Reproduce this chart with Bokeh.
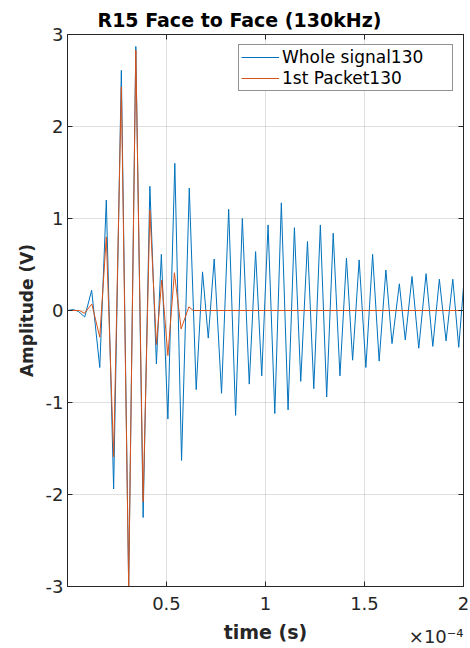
from bokeh.plotting import figure
from bokeh.models import Range1d, FixedTicker, LinearAxis, Legend, LegendItem, Title, ColumnDataSource
from bokeh.embed import file_html
from bokeh.resources import INLINE

# ---- data (time in microseconds, amplitude in volts) ----
whole_t_us = [0, 3, 5.5, 8.7, 12.2, 16.3, 19.6, 23.3, 27.2, 30.9, 34.5, 38.2, 41.6, 44.9,
              47.4, 50.7, 54.2, 57.6, 61.5, 65.0, 68.2, 71.1, 74.1, 77.8, 81.4, 84.9,
              88.3, 91.8, 95.0, 98.1, 101.3, 104.7, 108.0, 111.4, 114.6, 117.8, 121.2,
              124.4, 127.7, 130.9, 134.2, 137.6, 140.9, 144.0, 147.3, 150.7, 154.1,
              157.4, 160.8, 163.9, 167.6, 170.6, 174.0, 177.4, 181.1, 184.5, 187.8,
              191.2, 194.6, 197.6, 200]
whole_v = [0.0, 0.01, -0.01, -0.07, 0.22, -0.62, 1.20, -1.94, 2.61, -3.00, 2.87, -2.25, 1.35, -0.58,
           0.61, -1.18, 1.60, -1.63, 1.33, -0.86, 0.42, -0.30, 0.56, -0.90, 1.10, -1.14,
           1.00, -0.80, 0.64, -0.71, 0.93, -1.12, 1.17, -1.08, 0.90, -0.77, 0.75,
           -0.85, 0.93, -0.94, 0.84, -0.71, 0.57, -0.54, 0.55, -0.62, 0.61,
           -0.55, 0.44, -0.36, 0.29, -0.32, 0.37, -0.41, 0.40, -0.39, 0.34,
           -0.33, 0.34, -0.40, 0.26]

packet_t_us = [0, 6, 8.5, 12.3, 16.3, 19.6, 23.3, 27.2, 30.9, 34.5, 38.2, 41.6, 44.9,
               47.6, 50.7, 54.0, 57.4, 61.3, 63.5, 200]
packet_v = [0.0, 0.0, -0.03, 0.07, -0.29, 0.80, -1.59, 2.43, -3.00, 2.83, -2.08, 1.09, -0.37,
            0.33, -0.49, 0.41, -0.20, 0.04, 0.0, 0.0]

series_names = ["Whole signal130", "1st Packet130"]
x_ticks = [0.5, 1, 1.5, 2]            # in units of 1e-4 s
x_tick_labels = ["0.5", "1", "1.5", "2"]
y_ticks = [-3, -2, -1, 0, 1, 2, 3]
y_tick_labels = ["-3", "-2", "-1", "0", "1", "2", "3"]

FONT = "DejaVu Sans"
AX = "#262626"
BLUE = "#0072BD"
ORANGE = "#D95319"

whole_src = ColumnDataSource(dict(x=[t / 100.0 for t in whole_t_us], y=whole_v))
packet_src = ColumnDataSource(dict(x=[t / 100.0 for t in packet_t_us], y=packet_v))

p = figure(width=470, height=648, x_range=Range1d(0, 2), y_range=Range1d(-3, 3),
           output_backend="svg", toolbar_location=None,
           min_border_left=67, min_border_right=7, min_border_top=34, min_border_bottom=62)
p.background_fill_color = "white"
p.border_fill_color = "white"
p.outline_line_color = AX
p.outline_line_width = 1

# title
p.title.text = "R15 Face to Face (130kHz)"
p.title.text_font = FONT
p.title.text_font_size = "19px"
p.title.text_font_style = "bold"
p.title.text_color = "black"
p.title.align = "left"
p.title.offset = 30
p.title.standoff = 8

# lines
r1 = p.line("x", "y", source=whole_src, line_color=BLUE, line_width=1)
r2 = p.line("x", "y", source=packet_src, line_color=ORANGE, line_width=1)

# axes
def style_axis(ax, ticks, labels):
    ax.ticker = FixedTicker(ticks=ticks)
    ax.major_label_overrides = {t: l for t, l in zip(ticks, labels)}
    ax.axis_line_color = AX
    ax.major_tick_line_color = AX
    ax.major_tick_in = 5
    ax.major_tick_out = 0
    ax.minor_tick_line_color = None
    ax.major_label_text_font = FONT
    ax.major_label_text_color = AX

xa = p.xaxis[0]
ya = p.yaxis[0]
style_axis(xa, x_ticks, x_tick_labels)
style_axis(ya, y_ticks, y_tick_labels)
xa.major_label_text_font_size = "18px"
xa.major_label_standoff = 10
xa.axis_label = "time (s)"
xa.axis_label_text_font = FONT
xa.axis_label_text_font_size = "19px"
xa.axis_label_text_font_style = "bold"
xa.axis_label_text_color = AX
xa.axis_label_standoff = 8
ya.major_label_text_font_size = "18px"
ya.major_label_standoff = 4
ya.axis_label = "Amplitude (V)"
ya.axis_label_text_font = FONT
ya.axis_label_text_font_size = "17px"
ya.axis_label_text_font_style = "bold"
ya.axis_label_text_color = AX
ya.axis_label_standoff = 6

# box ticks on top and right (no labels)
top_ax = LinearAxis()
style_axis(top_ax, x_ticks, x_tick_labels)
top_ax.major_label_text_color = None
top_ax.major_label_text_font_size = "1px"
top_ax.major_label_standoff = 0
p.add_layout(top_ax, "above")
right_ax = LinearAxis()
style_axis(right_ax, y_ticks, y_tick_labels)
right_ax.major_label_text_color = None
right_ax.major_label_text_font_size = "1px"
right_ax.major_label_standoff = 0
p.add_layout(right_ax, "right")

# grid
p.xgrid.ticker = FixedTicker(ticks=x_ticks)
p.ygrid.ticker = FixedTicker(ticks=y_ticks)
p.grid.grid_line_color = AX
p.grid.grid_line_alpha = 0.15
p.grid.grid_line_width = 1

# legend
legend = Legend(items=[LegendItem(label=series_names[0], renderers=[r1]),
                       LegendItem(label=series_names[1], renderers=[r2])],
                location="top_right")
legend.label_text_font = FONT
legend.label_text_font_size = "17px"
legend.label_text_color = "black"
legend.glyph_width = 38
legend.glyph_height = 18
legend.label_height = 18
legend.label_width = 168
legend.label_standoff = 3
legend.spacing = 1
legend.padding = 2
legend.margin = 10
legend.border_line_color = AX
legend.border_line_width = 1
legend.background_fill_color = "white"
legend.background_fill_alpha = 1
p.add_layout(legend)

# x10^-4 exponent, placed in the bottom panel and pulled up beside the axis label
exp_title = Title(text="\u00d710\u207b\u2074", align="right", offset=0, vertical_align="top",
                  standoff=-40, text_font=FONT, text_font_size="18px",
                  text_font_style="normal", text_color=AX)
p.add_layout(exp_title, "below")

open("out.html", "w").write(file_html(p, INLINE))
